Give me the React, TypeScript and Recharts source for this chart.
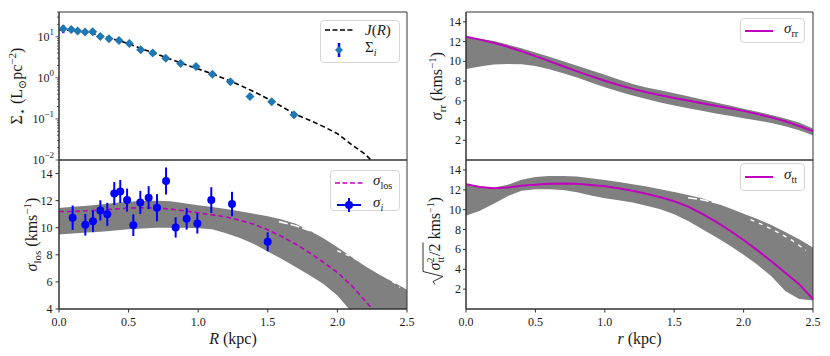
import React from "react";
import { Area, ComposedChart, ErrorBar, Legend, Line, ReferenceArea, Scatter, XAxis, YAxis } from "recharts";

const FONT = "Liberation Serif, DejaVu Serif, serif";
const MAGENTA = "#bf00bf";
const BAND = "#808080";
const AXIS = "#333";
const TXT = "#1a1a1a";

const xTicks = [0, 0.5, 1, 1.5, 2, 2.5];

// --- surface brightness (top left) ---
const surfR = [0.03, 0.088, 0.134, 0.187, 0.242, 0.297, 0.359, 0.431, 0.505, 0.587, 0.673, 0.767, 0.874, 0.984, 1.102, 1.231, 1.372, 1.528, 1.688];
const surfVal = [15.7, 15.1, 13.8, 13.0, 13.2, 10.2, 8.9, 8.1, 6.8, 4.8, 4.0, 3.0, 2.23, 1.89, 1.23, 0.8, 0.35, 0.26, 0.127];
const surfErr = [3.5, 1.2, 0.9, 0.8, 0.8, 0.6, 0.5, 0.45, 0.35, 0.25, 0.2, 0.15, 0.1, 0.09, 0.06, 0.04, 0.025, 0.02, 0.02];
const jR = [0, 0.1, 0.2, 0.3, 0.4, 0.5, 0.6, 0.7, 0.8, 0.9, 1.0, 1.1, 1.2, 1.3, 1.4, 1.5, 1.6, 1.7, 1.8, 1.9, 2.0, 2.1, 2.2, 2.3];
const jVal = [14.8, 14.2, 12.8, 10.8, 8.6, 6.8, 5.0, 3.8, 2.85, 2.15, 1.65, 1.25, 0.92, 0.66, 0.46, 0.31, 0.2, 0.128, 0.093, 0.065, 0.044, 0.024, 0.0138, 0.0063];
const logTicks = [0.01, 0.02, 0.03, 0.04, 0.05, 0.06, 0.07, 0.08, 0.09, 0.1, 0.2, 0.3, 0.4, 0.5, 0.6, 0.7, 0.8, 0.9, 1, 2, 3, 4, 5, 6, 7, 8, 9, 10, 20, 30, 40];

// --- line-of-sight dispersion (bottom left) ---
const losR = [0.098, 0.189, 0.244, 0.297, 0.347, 0.397, 0.44, 0.489, 0.534, 0.584, 0.644, 0.704, 0.769, 0.838, 0.917, 0.994, 1.094, 1.243, 1.499];
const losVal = [10.74, 10.22, 10.47, 11.28, 10.99, 12.52, 12.67, 12.04, 10.19, 11.87, 12.22, 11.48, 13.45, 10.02, 10.66, 10.32, 12.04, 11.75, 8.96];
const losErr = [0.9, 0.8, 0.8, 0.75, 0.85, 0.85, 0.85, 0.85, 0.8, 0.85, 0.85, 1.0, 1.0, 0.75, 0.8, 0.75, 0.95, 0.9, 0.7];

const grid = [0, 0.1, 0.2, 0.3, 0.4, 0.5, 0.6, 0.7, 0.8, 0.9, 1.0, 1.1, 1.2, 1.3, 1.4, 1.5, 1.6, 1.7, 1.8, 1.9, 2.0, 2.1, 2.2, 2.3, 2.4, 2.5];
const losModel = [11.2, 11.2, 11.25, 11.3, 11.38, 11.45, 11.48, 11.45, 11.38, 11.25, 11.1, 10.95, 10.8, 10.55, 10.25, 9.85, 9.35, 8.8, 8.15, 7.45, 6.7, 5.75, 4.6, 3.4, null, null];
const losHi = [11.46, 11.55, 11.63, 11.72, 11.83, 11.92, 11.98, 12.0, 11.95, 11.8, 11.66, 11.53, 11.39, 11.22, 11.04, 10.84, 10.6, 10.3, 9.8, 9.22, 8.55, 7.85, 7.15, 6.55, 6.0, 5.43];
const losLo = [9.5, 9.57, 9.64, 9.71, 9.8, 9.88, 9.94, 9.99, 10.0, 10.0, 9.97, 9.88, 9.6, 9.25, 8.8, 8.25, 7.7, 7.1, 6.5, 5.85, 5.0, 3.8, 3.0, 3.0, 3.0, 3.0];
const losGapR = [1.58, 1.7, 1.8, 1.9, 2.0, 2.07];
const losGapV = [10.45, 10.15, 9.8, 9.4, 8.95, 8.6];
const losGap2R = [2.0, 2.1, 2.2, 2.3, 2.4, 2.45];
const losGap2V = [8.3, 7.85, 7.3, 6.7, 6.0, 5.6];

// --- radial dispersion (top right) ---
const rrModel = [12.5, 12.2, 11.88, 11.48, 11.02, 10.53, 10.02, 9.5, 8.98, 8.5, 8.03, 7.6, 7.21, 6.86, 6.56, 6.28, 6.02, 5.76, 5.5, 5.25, 4.98, 4.66, 4.32, 3.92, 3.45, 2.92];
const rrHi = [12.5, 12.3, 12.05, 11.7, 11.32, 10.9, 10.46, 10.0, 9.54, 9.09, 8.64, 8.16, 7.71, 7.35, 7.06, 6.76, 6.45, 6.14, 5.83, 5.52, 5.2, 4.9, 4.56, 4.2, 3.79, 3.19];
const rrLo = [9.22, 9.48, 9.68, 9.74, 9.7, 9.52, 9.2, 8.8, 8.35, 7.85, 7.37, 6.93, 6.54, 6.18, 5.84, 5.53, 5.25, 4.98, 4.72, 4.48, 4.24, 4.0, 3.74, 3.42, 3.02, 2.52];

// --- tangential dispersion (bottom right) ---
const ttModel = [12.57, 12.28, 12.15, 12.22, 12.4, 12.52, 12.6, 12.63, 12.6, 12.48, 12.35, 12.15, 11.9, 11.6, 11.25, 10.85, 10.3, 9.6, 8.8, 7.9, 6.95, 5.9, 4.8, 3.65, 2.5, 1.0];
const ttHi = [12.57, 12.35, 12.2, 12.5, 13.0, 13.28, 13.4, 13.4, 13.33, 13.17, 12.98, 12.78, 12.57, 12.32, 12.06, 11.78, 11.48, 11.15, 10.68, 10.15, 9.6, 9.05, 8.45, 7.75, 7.03, 6.2];
const ttLo = [9.38, 9.9, 10.6, 11.35, 11.9, 12.06, 12.05, 11.98, 11.75, 11.42, 11.15, 10.95, 10.72, 10.4, 10.05, 9.55, 8.85, 8.05, 7.25, 6.4, 5.45, 4.45, 3.3, 1.8, 1.0, 0.85];
const ttGapR = [1.6, 1.7, 1.8, 1.9, 2.0, 2.1];
const ttGapV = [11.2, 11.0, 10.7, 10.3, 9.8, 9.3];
const ttGap2R = [2.05, 2.15, 2.25, 2.35, 2.45];
const ttGap2V = [9.0, 8.4, 7.7, 6.9, 5.9];

const surfRows = jR.map((x, i) => ({ x, J: jVal[i] }));
const surfPts = surfR.map((x, i) => ({ x, y: surfVal[i], err: surfErr[i] }));
const losRows = grid.map((x, i) => ({ x, model: losModel[i], band: [losLo[i], losHi[i]] }));
const losPts = losR.map((x, i) => ({ x, y: losVal[i], err: losErr[i] }));
const rrRows = grid.map((x, i) => ({ x, model: rrModel[i], band: [rrLo[i], rrHi[i]] }));
const ttRows = grid.map((x, i) => ({ x, model: ttModel[i], band: [ttLo[i], ttHi[i]] }));
const pairs = (xs: number[], ys: number[]) => xs.map((x, i) => ({ x, y: ys[i] }));

const axisLine = { stroke: AXIS, strokeWidth: 1 };

// plain tick renderers so the serif font is applied for sure
const YTick = (p: any) => (
  <text x={p.x} y={p.y} dy={4} textAnchor="end" fontSize={12} fontFamily={FONT} fill={TXT}>{p.payload.value}</text>
);
const XTick = (p: any) => (
  <text x={p.x} y={p.y} dy={9} textAnchor="middle" fontSize={12} fontFamily={FONT} fill={TXT}>{p.payload.value.toFixed(1)}</text>
);

const LogTick = (p: any) => {
  const { x, y, payload } = p;
  const e = Math.log10(payload.value);
  const major = Math.abs(e - Math.round(e)) < 1e-6;
  const ex = Math.round(e);
  return (
    <g>
      <line x1={x} x2={x - (major ? 3.5 : 2)} y1={y} y2={y} stroke={AXIS} strokeWidth={0.8} />
      {major && (
        <text x={x - 5} y={y} dy={4} textAnchor="end" fontSize={12} fontFamily={FONT} fill={TXT}>
          10<tspan dy={-6} fontSize={9}>{ex < 0 ? `\u2212${-ex}` : ex}</tspan>
        </text>
      )}
    </g>
  );
};

const yLabel = (cx: number, body: React.ReactNode) => ({ viewBox }: any) => {
  const cy = viewBox.y + viewBox.height / 2;
  return (
    <g transform={`translate(${cx},${cy}) rotate(-90)`}>
      <text x={0} y={5} textAnchor="middle" fontSize={16} fontFamily={FONT} fill={TXT}>{body}</text>
    </g>
  );
};

const xLabel = (sym: string) => ({ viewBox }: any) => (
  <text x={viewBox.x + viewBox.width / 2} y={viewBox.y + 35} textAnchor="middle" fontSize={16} fontFamily={FONT} fill={TXT}>
    <tspan fontStyle="italic">{sym}</tspan> (kpc)
  </text>
);

// sqrt(sigma_tt^2 / 2) kms^-1) label, drawn with a radical sign
const ttLabel = ({ viewBox }: any) => {
  const cy = viewBox.y + viewBox.height / 2;
  const rx = -50;
  return (
    <g transform={`translate(20,${cy}) rotate(-90)`}>
      <path d={`M${rx} 0 L${rx + 3} -2 L${rx + 8} 8 L${rx + 13} -12 L${rx + 42} -12`} fill="none" stroke={TXT} strokeWidth={0.9} />
      <text x={rx + 14} y={5} fontSize={16} fontFamily={FONT} fill={TXT}>
        <tspan fontStyle="italic">σ</tspan>
        <tspan dy={-6} fontSize={10}>2</tspan>
        <tspan dx={-5} dy={10} fontSize={10}>tt</tspan>
        <tspan dx={1} dy={-4}>/2 kms</tspan>
        <tspan dy={-6} fontSize={10}>−1</tspan>
        <tspan dy={6}>)</tspan>
      </text>
    </g>
  );
};

const Icon = ({ kind }: { kind: string }) => (
  <svg width={28} height={14} style={{ display: "block", flex: "none" }}>
    {kind === "jdash" && <line x1={0} x2={28} y1={7} y2={7} stroke="#000" strokeWidth={1.6} strokeDasharray="5 2.5" />}
    {kind === "mdash" && <line x1={0} x2={28} y1={7} y2={7} stroke={MAGENTA} strokeWidth={1.6} strokeDasharray="5 2.5" />}
    {kind === "msolid" && <line x1={0} x2={28} y1={7} y2={7} stroke={MAGENTA} strokeWidth={2} />}
    {kind === "diamond" && (
      <g>
        <line x1={14} x2={14} y1={0} y2={14} stroke="#0000ff" strokeWidth={2.5} />
        <polygon points="14,3 18,7 14,11 10,7" fill="#1f77b4" />
      </g>
    )}
    {kind === "circle" && (
      <g>
        <line x1={2} x2={26} y1={7} y2={7} stroke="#0000ff" strokeWidth={2} />
        <line x1={14} x2={14} y1={0} y2={14} stroke="#0000ff" strokeWidth={2} />
        <circle cx={14} cy={7} r={4} fill="#0000ff" />
      </g>
    )}
  </svg>
);

type Row = { kind: string; label: React.ReactNode };
const LegendBox = ({ rows, width, height, gap }: { rows: Row[]; width: number; height: number; gap: number }) => (
  <div
    style={{
      boxSizing: "border-box", width, height, border: "1px solid #d6d6d6", borderRadius: 4,
      background: "rgba(255,255,255,0.85)", padding: "1px 4px", fontFamily: FONT, fontSize: 15, color: TXT,
      display: "flex", flexDirection: "column", justifyContent: "space-around",
    }}
  >
    {rows.map((r, i) => (
      <div key={i} style={{ display: "flex", alignItems: "center", lineHeight: "16px" }}>
        <Icon kind={r.kind} />
        <span style={{ marginLeft: gap, whiteSpace: "nowrap" }}>{r.label}</span>
      </div>
    ))}
  </div>
);

const sub = (s: string, italic = false) => <sub style={{ fontSize: "0.68em", fontStyle: italic ? "italic" : "normal" }}>{s}</sub>;

const Diamond = (p: any) => <polygon points={`${p.cx},${p.cy - 4.5} ${p.cx + 4.5},${p.cy} ${p.cx},${p.cy + 4.5} ${p.cx - 4.5},${p.cy}`} fill="#1f77b4" />;
const Dot = (p: any) => <circle cx={p.cx} cy={p.cy} r={4} fill="#0000ff" />;

function SurfacePanel() {
  return (
    <ComposedChart width={415} height={175} data={surfRows} margin={{ top: 12, right: 8, bottom: 15, left: 0 }}>
      <XAxis dataKey="x" type="number" domain={[0, 2.5]} ticks={xTicks} tick={false} tickLine={false} height={0} axisLine={axisLine} />
      <YAxis
        scale="log" type="number" domain={[0.01, 40]} allowDataOverflow ticks={logTicks} interval={0}
        tick={<LogTick />} tickLine={false} tickSize={0} tickMargin={0} width={59} axisLine={axisLine}
        label={yLabel(17, <>
          <tspan>Σ</tspan><tspan dy={4} fontSize={11}>⋆</tspan><tspan dy={-4}> (L</tspan>
          <tspan dy={4} fontSize={11}>⊙</tspan><tspan dy={-4}>pc</tspan>
          <tspan dy={-6} fontSize={11}>−2</tspan><tspan dy={6}>)</tspan>
        </>)}
      />
      <Line dataKey="J" stroke="#000" strokeWidth={1.6} strokeDasharray="5 3" dot={false} isAnimationActive={false} />
      <Scatter data={surfPts} dataKey="y" shape={<Diamond />} isAnimationActive={false}>
        <ErrorBar dataKey="err" direction="y" width={0} stroke="#0000ff" strokeWidth={2.5} isAnimationActive={false} />
      </Scatter>
      <ReferenceArea x1={0} x2={2.5} y1={0.01} y2={40} fill="none" stroke={AXIS} strokeWidth={1} />
      <Legend
        layout="horizontal" verticalAlign="middle" align="center" wrapperStyle={{ left: 320, top: 20, width: 80 }}
        content={() => (
          <LegendBox width={80} height={43} gap={12} rows={[
            { kind: "jdash", label: <><i>J</i>(<i>R</i>)</> },
            { kind: "diamond", label: <>Σ{sub("i", true)}</> },
          ]} />
        )}
      />
    </ComposedChart>
  );
}

function LosPanel() {
  return (
    <ComposedChart width={415} height={206} data={losRows} margin={{ top: 10, right: 8, bottom: 0, left: 0 }}>
      <XAxis
        dataKey="x" type="number" domain={[0, 2.5]} ticks={xTicks} interval={0} tick={<XTick />}
        tickSize={3.5} tickMargin={4} height={47} axisLine={axisLine} tickLine={axisLine} label={xLabel("R")}
      />
      <YAxis
        type="number" domain={[4, 15]} allowDataOverflow ticks={[4, 6, 8, 10, 12, 14]} interval={0} tick={<YTick />}
        tickSize={3.5} tickMargin={3} width={59} axisLine={axisLine} tickLine={axisLine}
        label={yLabel(32, <>
          <tspan fontStyle="italic">σ</tspan><tspan dy={4} fontSize={11}>los</tspan>
          <tspan dy={-4}> (kms</tspan><tspan dy={-6} fontSize={11}>−1</tspan><tspan dy={6}>)</tspan>
        </>)}
      />
      <Area dataKey="band" stroke="none" fill={BAND} fillOpacity={1} isAnimationActive={false} />
      <Line data={pairs(losGapR, losGapV)} dataKey="y" stroke="#fff" strokeWidth={1.6} strokeDasharray="9 3" dot={false} isAnimationActive={false} />
      <Line data={pairs(losGap2R, losGap2V)} dataKey="y" stroke="#fff" strokeWidth={1.4} strokeDasharray="4 5" dot={false} isAnimationActive={false} />
      <Line dataKey="model" stroke={MAGENTA} strokeWidth={1.6} strokeDasharray="5 3" dot={false} isAnimationActive={false} />
      <Scatter data={losPts} dataKey="y" shape={<Dot />} isAnimationActive={false}>
        <ErrorBar dataKey="err" direction="y" width={0} stroke="#0000ff" strokeWidth={2} isAnimationActive={false} />
      </Scatter>
      <ReferenceArea x1={0} x2={2.5} y1={4} y2={15} fill="none" stroke={AXIS} strokeWidth={1} />
      <Legend
        layout="horizontal" verticalAlign="middle" align="center" wrapperStyle={{ left: 330, top: 20, width: 70 }}
        content={() => (
          <LegendBox width={70} height={41} gap={10} rows={[
            { kind: "mdash", label: <><i>σ</i>{sub("los")}</> },
            { kind: "circle", label: <i>σ{sub("i", true)}</i> },
          ]} />
        )}
      />
    </ComposedChart>
  );
}

function RrPanel() {
  return (
    <ComposedChart width={415} height={175} data={rrRows} margin={{ top: 12, right: 17, bottom: 15, left: 0 }}>
      <XAxis dataKey="x" type="number" domain={[0, 2.5]} ticks={xTicks} tick={false} tickLine={false} height={0} axisLine={axisLine} />
      <YAxis
        type="number" domain={[0, 15]} ticks={[2, 4, 6, 8, 10, 12, 14]} interval={0} tick={<YTick />}
        tickSize={3} tickMargin={2} width={51} axisLine={axisLine} tickLine={axisLine}
        label={yLabel(22, <>
          <tspan fontStyle="italic">σ</tspan><tspan dy={4} fontSize={11}>rr</tspan>
          <tspan dy={-4}> (kms</tspan><tspan dy={-6} fontSize={11}>−1</tspan><tspan dy={6}>)</tspan>
        </>)}
      />
      <Area dataKey="band" stroke="none" fill={BAND} fillOpacity={1} isAnimationActive={false} />
      <Line dataKey="model" stroke={MAGENTA} strokeWidth={2} dot={false} isAnimationActive={false} />
      <ReferenceArea x1={0} x2={2.5} y1={0} y2={15} fill="none" stroke={AXIS} strokeWidth={1} />
      <Legend
        layout="horizontal" verticalAlign="middle" align="center" wrapperStyle={{ left: 325, top: 18, width: 65 }}
        content={() => <LegendBox width={65} height={25} gap={11} rows={[{ kind: "msolid", label: <><i>σ</i>{sub("rr")}</> }]} />}
      />
    </ComposedChart>
  );
}

function TtPanel() {
  return (
    <ComposedChart width={415} height={206} data={ttRows} margin={{ top: 10, right: 17, bottom: 0, left: 0 }}>
      <XAxis
        dataKey="x" type="number" domain={[0, 2.5]} ticks={xTicks} interval={0} tick={<XTick />}
        tickSize={3.5} tickMargin={4} height={47} axisLine={axisLine} tickLine={axisLine} label={xLabel("r")}
      />
      <YAxis
        type="number" domain={[0, 15]} allowDataOverflow ticks={[2, 4, 6, 8, 10, 12, 14]} interval={0} tick={<YTick />}
        tickSize={3} tickMargin={2} width={51} axisLine={axisLine} tickLine={axisLine}
        label={ttLabel}
      />
      <Area dataKey="band" stroke="none" fill={BAND} fillOpacity={1} isAnimationActive={false} />
      <Line data={pairs(ttGapR, ttGapV)} dataKey="y" stroke="#fff" strokeWidth={1.6} strokeDasharray="9 3" dot={false} isAnimationActive={false} />
      <Line data={pairs(ttGap2R, ttGap2V)} dataKey="y" stroke="#fff" strokeWidth={1.4} strokeDasharray="4 5" dot={false} isAnimationActive={false} />
      <Line dataKey="model" stroke={MAGENTA} strokeWidth={2} dot={false} isAnimationActive={false} />
      <ReferenceArea x1={0} x2={2.5} y1={0} y2={15} fill="none" stroke={AXIS} strokeWidth={1} />
      <Legend
        layout="horizontal" verticalAlign="middle" align="center" wrapperStyle={{ left: 325, top: 13, width: 65 }}
        content={() => <LegendBox width={65} height={28} gap={11} rows={[{ kind: "msolid", label: <><i>σ</i>{sub("tt")}</> }]} />}
      />
    </ComposedChart>
  );
}

export default function App() {
  return (
    <div style={{ position: "absolute", left: 0, top: 0, width: 830, height: 356, background: "#fff", fontFamily: FONT }}>
      <div style={{ position: "absolute", left: 0, top: 150 }}><LosPanel /></div>
      <div style={{ position: "absolute", left: 0, top: 0 }}><SurfacePanel /></div>
      <div style={{ position: "absolute", left: 415, top: 150 }}><TtPanel /></div>
      <div style={{ position: "absolute", left: 415, top: 0 }}><RrPanel /></div>
    </div>
  );
}
